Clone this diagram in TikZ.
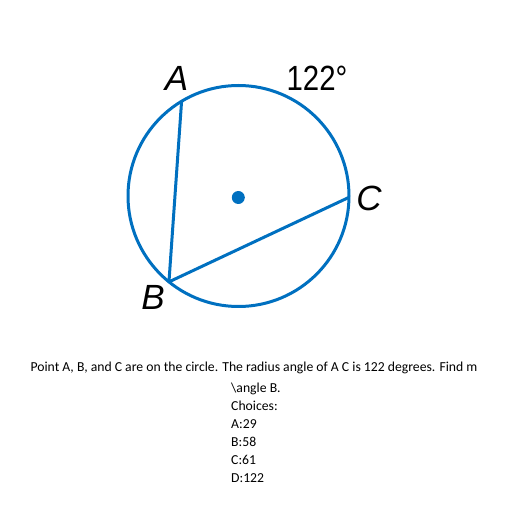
\documentclass[tikz,border=0pt]{standalone}
\usepackage{fontspec}
\setmainfont{Carlito}
\newfontfamily\labelfont{Liberation Sans}
\usetikzlibrary{calc}
\definecolor{circblue}{RGB}{0,112,192}
\tikzset{
  rim/.style    = {draw=circblue, line width=3pt},
  chord/.style  = {circblue, line width=3pt, line join=round},
  ptlbl/.style  = {font=\labelfont\itshape\fontsize{35}{35}\selectfont, inner sep=0pt},
  arclbl/.style = {font=\labelfont\fontsize{35}{35}\selectfont, inner sep=0pt},
  qtext/.style  = {font=\fontsize{13.7}{18}\selectfont, inner sep=0pt},
}

\begin{document}
\begin{tikzpicture}[x=1pt,y=1pt]
  \useasboundingbox (0,0) rectangle (512,512);
  % circle and its centre
  \coordinate (O) at (238.5,316);
  \draw[rim] (O) circle [radius=110.5];
  \fill[circblue] (238.3,314.5) circle [radius=6.5];
  % points on the circle
  \coordinate (A) at ($(O)+(121:110.5)$);
  \coordinate (B) at ($(O)+(231:110.5)$);
  \coordinate (C) at ($(O)+(-0.7:110.5)$);
  \draw[chord] (A) -- (B) -- (C);
  % labels
  \node[ptlbl] (lblA) at (176.5,434) {A};
  \node[ptlbl] (lblB) at (153,215) {B};
  \node[ptlbl] (lblC) at (369,314) {C};
  \node[arclbl, xscale=0.84] (arc) at (317,434) {122°};
  % question text
  \node[qtext, anchor=base] (q1) at (254,140)
    {Point A, B, and C are on the circle. The radius angle of A C is 122 degrees. Find m};
  \node[qtext, anchor=north west, align=left] (q2) at (231,129.5)
    {\textbackslash angle B.\\ Choices:\\ A:29\\ B:58\\ C:61\\ D:122};
\end{tikzpicture}
\end{document}
